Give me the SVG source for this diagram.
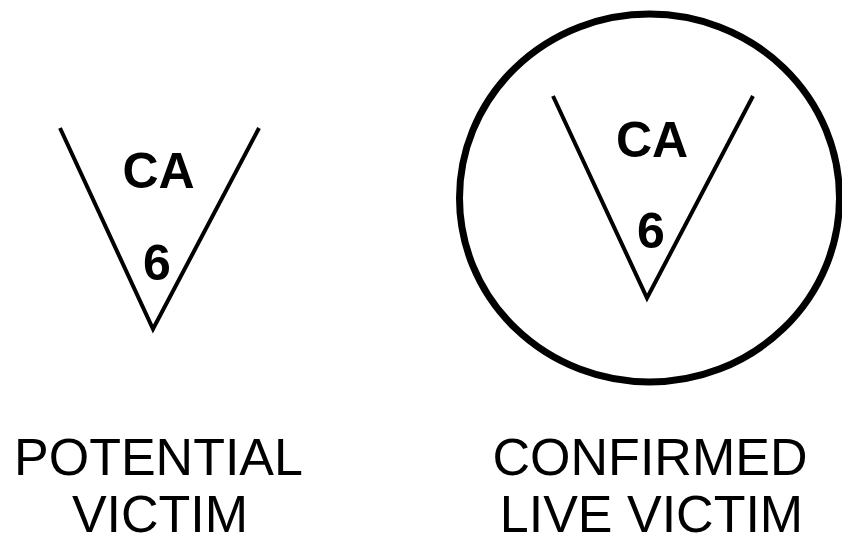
<svg xmlns="http://www.w3.org/2000/svg" width="842" height="539" viewBox="0 0 842 539">
<style>
.v{fill:none;stroke:#000;stroke-width:4;stroke-linejoin:miter}
.b{font-family:"Liberation Sans",Arial,sans-serif;font-weight:bold;font-size:50px;text-anchor:middle;fill:#000}
.l{font-family:"Liberation Sans",Arial,sans-serif;font-size:52px;text-anchor:middle;fill:#000}
</style>
<rect width="842" height="539" fill="#fff"/>
<g id="potential">
<polyline class="v" points="60,128 153,329 259,128"/>
<text class="b" x="158.5" y="188">CA</text>
<text class="b" x="157" y="280">6</text>
<text class="l" x="158.5" y="475">POTENTIAL</text>
<text class="l" x="160" y="532">VICTIM</text>
</g>
<g id="confirmed">
<ellipse cx="649.5" cy="198" rx="190" ry="184" fill="none" stroke="#000" stroke-width="7"/>
<polyline class="v" points="553,96 647,298 753,96"/>
<text class="b" x="652" y="157">CA</text>
<text class="b" x="651" y="248">6</text>
<text class="l" x="650" y="475">CONFIRMED</text>
<text class="l" x="651.5" y="532">LIVE VICTIM</text>
</g>
</svg>
